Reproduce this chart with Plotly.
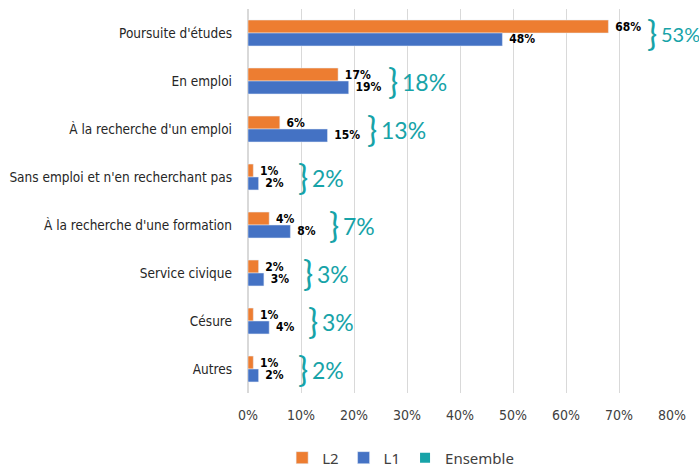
import plotly.graph_objects as go

# Situation des étudiants (valeurs en %)
categories = ["Poursuite d'études", "En emploi", "À la recherche d'un emploi",
              "Sans emploi et n'en recherchant pas", "À la recherche d'une formation",
              "Service civique", "Césure", "Autres"]
l2 = [68, 17, 6, 1, 4, 2, 1, 1]
l1 = [48, 19, 15, 2, 8, 3, 4, 2]
ensemble = [53, 18, 13, 2, 7, 3, 3, 2]
x_ticks = [0, 10, 20, 30, 40, 50, 60, 70, 80]

ORANGE = '#ED7D31'
BLUE = '#4472C4'
TEAL = '#17A3A8'
NARROW = 'DejaVu Sans Condensed, Liberation Sans Narrow, sans-serif'

fig = go.Figure()

# Barres L2 (en haut) puis L1
for name, vals, color in [('L2', l2, ORANGE), ('L1', l1, BLUE)]:
    fig.add_trace(go.Bar(
        y=categories, x=vals, name=name, orientation='h',
        marker=dict(color=color),
        texttemplate=' %{x}%', textposition='outside', cliponaxis=False,
        constraintext='none',
        textfont=dict(family=NARROW, size=12, color='black', weight='bold'),
    ))

# Ensemble : seulement pour la légende
fig.add_trace(go.Scatter(
    x=[None], y=[None], mode='markers', name='Ensemble',
    marker=dict(symbol='square', size=10, color=TEAL),
))

# Accolades + pourcentage d'ensemble
for cat, a, b, e in zip(categories, l2, l1, ensemble):
    xmax = max(a, b)
    # texte un peu plus petit quand il touche le bord droit
    size = 20 if xmax > 60 else 23
    fig.add_annotation(
        x=xmax, y=cat, text='}', showarrow=False,
        xanchor='left', xshift=37, yshift=1,
        font=dict(family='Lato', size=34, color=TEAL),
    )
    fig.add_annotation(
        x=xmax, y=cat, text=f'{e}%', showarrow=False,
        xanchor='left', xshift=51, yshift=-1,
        font=dict(family='Lato', size=size, color=TEAL),
    )

fig.update_layout(
    width=699, height=467,
    margin=dict(l=248, r=27, t=9, b=74, autoexpand=False),
    paper_bgcolor='white', plot_bgcolor='white',
    barmode='group', bargap=0.46, bargroupgap=0,
    legend=dict(orientation='h', x=0.36, xanchor='center', y=-0.169, yanchor='middle',
                font=dict(family='Noto Sans', size=15, color='#404040'),
                itemwidth=30, tracegroupgap=0),
    xaxis=dict(range=[0, 80], tickvals=x_ticks, ticktext=[f'{v}%' for v in x_ticks],
               showgrid=True, gridcolor='#D9D9D9', gridwidth=1,
               zeroline=True, zerolinecolor='#D9D9D9',
               tickfont=dict(family=NARROW, size=14, color='#404040'),
               ticklabelstandoff=12, automargin=False, fixedrange=True),
    yaxis=dict(autorange='reversed', showgrid=False, showline=False,
               tickfont=dict(family=NARROW, size=13.5, color='#262626'),
               ticklabelstandoff=15, automargin=False, fixedrange=True),
    showlegend=True,
)

fig.write_html("out.html", config={'displayModeBar': False},
               post_script="document.body.style.margin='0';")
